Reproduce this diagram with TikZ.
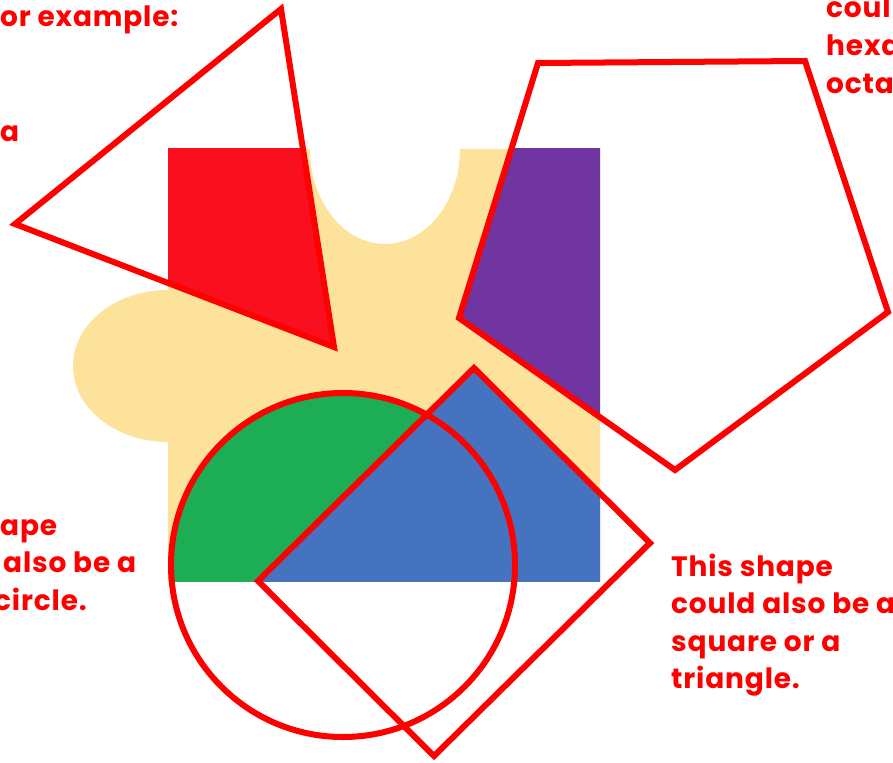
\documentclass[tikz,border=0pt]{standalone}
\usepackage{fontspec}
\setmainfont{Poppins}[LetterSpace=3]
\definecolor{pieceyellow}{HTML}{FCE29B}
\definecolor{partred}{HTML}{FA0F1F}
\definecolor{partpurple}{HTML}{7035A0}
\definecolor{partgreen}{HTML}{1DAE55}
\definecolor{partblue}{HTML}{4673C0}
\definecolor{outlinered}{HTML}{FF0000}
\tikzset{
    outline/.style={draw=outlinered, line width=6pt, line join=miter},
    note/.style={anchor=base west, inner sep=0pt, text=outlinered, font=\fontsize{28}{34}\selectfont\bfseries}
}

\begin{document}
\begin{tikzpicture}[x=1pt, y=-1pt]
    \useasboundingbox (0,0) rectangle (893,762);
    \clip (0,0) rectangle (893,762);

    % puzzle piece
    \fill[pieceyellow] (168,149) -- (310,149)
        arc[start angle=180, end angle=0, x radius=75, y radius=95]
        -- (600,149) -- (600,581) -- (168,581) -- (168,442)
        arc[start angle=90, end angle=270, x radius=95, y radius=76] -- cycle;

    % coloured parts inside the square
    \begin{scope}
        \clip (168,149) rectangle (600,581);
        \fill[partred] (281,9) -- (15,224) -- (334,347) -- cycle;
        \fill[partpurple] (538,63) -- (805,61) -- (888,312) -- (675,470) -- (459,318) -- cycle;
        \fill[partgreen] (343,565) circle[radius=172];
        \fill[partblue] (258,581) -- (474,368) -- (650,543) -- (434,756) -- cycle;
    \end{scope}

    % outlines
    \draw[outline] (281,9) -- (15,224) -- (334,347) -- cycle;
    \draw[outline] (538,63) -- (805,61) -- (888,312) -- (675,470) -- (459,318) -- cycle;
    \draw[outline] (343,565) circle[radius=172];
    \draw[outline] (258,581) -- (474,368) -- (650,543) -- (434,756) -- cycle;

    % notes
    \node[note] (topleft1) at (0,27) {or example:};
    \node[note] (topleft2) at (0,142) {a};
    \node[note] (topright1) at (826,18) {coul};
    \node[note] (topright2) at (826,56) {hexa};
    \node[note] (topright3) at (826,94) {octa};
    \node[note] (left1) at (0,535) {ape};
    \node[note] (left2) at (3,572) {also be a};
    \node[note] (left3) at (-6,610) {circle.};
    \node[note] (right1) at (671,576) {This shape};
    \node[note] (right2) at (671,613) {could also be a};
    \node[note] (right3) at (671,651) {square or a};
    \node[note] (right4) at (671,688) {triangle.};
\end{tikzpicture}
\end{document}
